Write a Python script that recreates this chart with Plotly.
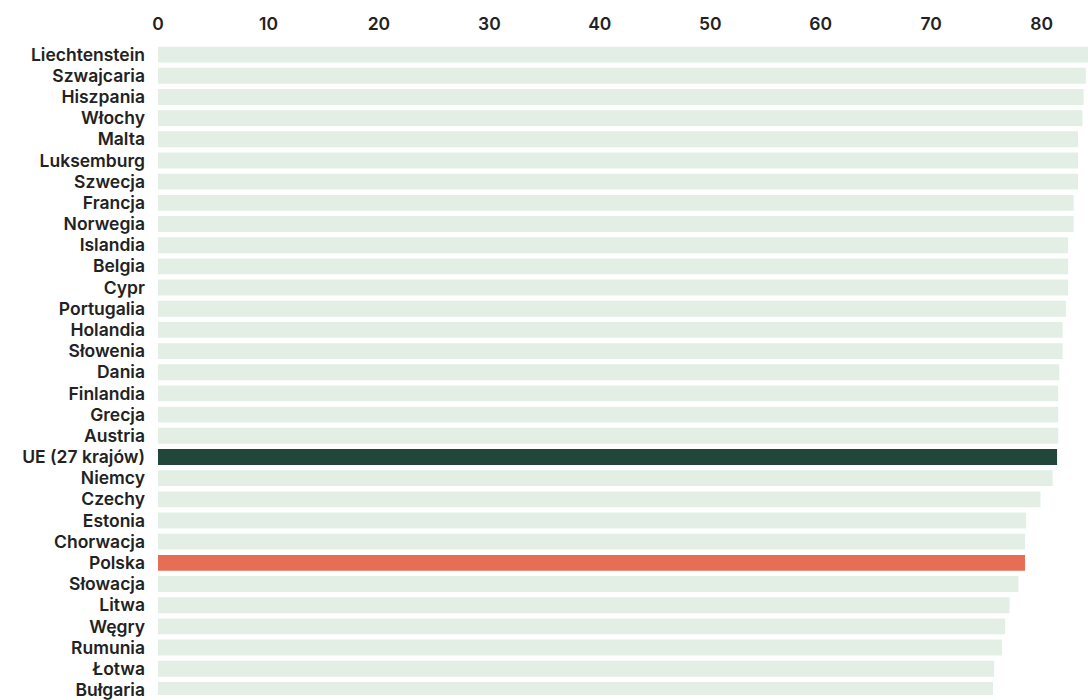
import plotly.graph_objects as go

# Life expectancy at birth (years), sorted from highest to lowest
countries = [
    "Liechtenstein", "Szwajcaria", "Hiszpania", "Włochy", "Malta",
    "Luksemburg", "Szwecja", "Francja", "Norwegia", "Islandia",
    "Belgia", "Cypr", "Portugalia", "Holandia", "Słowenia",
    "Dania", "Finlandia", "Grecja", "Austria", "UE (27 krajów)",
    "Niemcy", "Czechy", "Estonia", "Chorwacja", "Polska",
    "Słowacja", "Litwa", "Węgry", "Rumunia", "Łotwa", "Bułgaria",
]
values = [
    84.2, 84.0, 83.8, 83.7, 83.3,
    83.3, 83.3, 82.9, 82.9, 82.4,
    82.4, 82.4, 82.2, 81.9, 81.9,
    81.6, 81.5, 81.5, 81.5, 81.4,
    81.0, 79.9, 78.6, 78.5, 78.5,
    77.9, 77.1, 76.7, 76.4, 75.7, 75.6,
]
tick_vals = [0, 10, 20, 30, 40, 50, 60, 70, 80]

BASE = "#e3efe5"
EU = "#21463a"
PL = "#e56e55"
colors = [EU if c.startswith("UE") else PL if c == "Polska" else BASE for c in countries]

fig = go.Figure(
    go.Bar(
        x=values,
        y=countries,
        orientation="h",
        marker=dict(color=colors, line=dict(width=0)),
        hoverinfo="x+y",
    )
)

fig.update_layout(
    width=1088,
    height=700,
    margin=dict(l=158, r=0, t=44, b=0),
    paper_bgcolor="white",
    plot_bgcolor="white",
    bargap=0.25,
    showlegend=False,
    font=dict(family="Inter, Lato, sans-serif", color="#222222"),
)

fig.update_xaxes(
    side="top",
    range=[0, max(values)],
    tickmode="array",
    tickvals=tick_vals,
    showgrid=False,
    zeroline=False,
    showline=False,
    ticks="",
    ticklabelstandoff=10,
    tickfont=dict(size=17.5, weight=600, color="#222222"),
)

# every country label is drawn, none skipped
fig.update_yaxes(
    type="category",
    categoryorder="array",
    categoryarray=countries,
    tickmode="array",
    tickvals=countries,
    ticktext=countries,
    range=[30.24, -0.5],
    showgrid=False,
    zeroline=False,
    showline=False,
    ticks="",
    ticklabelstandoff=12,
    tickfont=dict(size=17.5, weight=600, color="#222222"),
)

fig.write_html("out.html")
